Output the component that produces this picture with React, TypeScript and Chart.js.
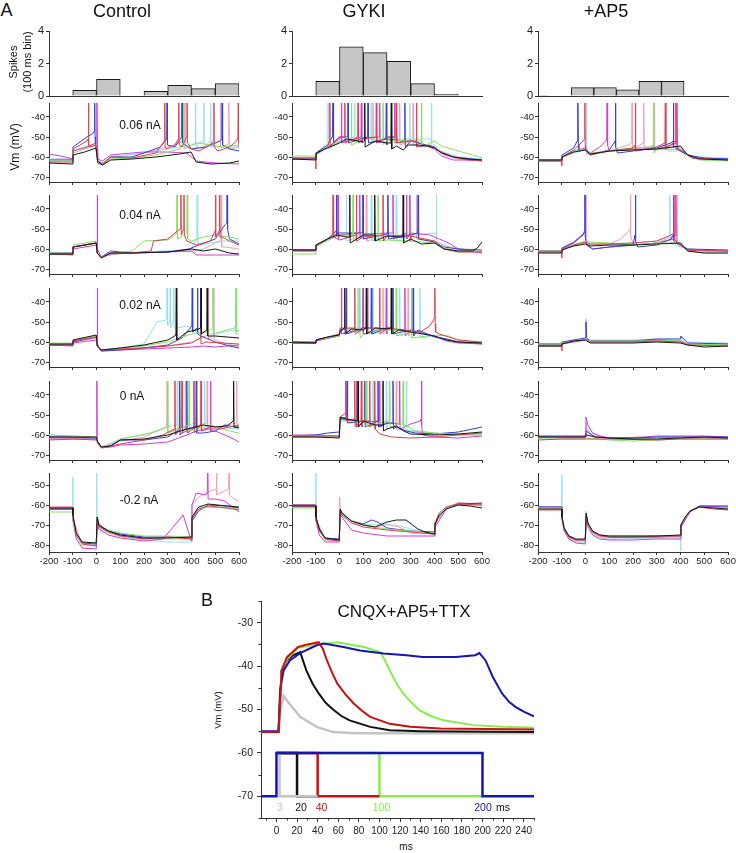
import React, { useEffect, useRef } from "react";
import { Chart, registerables } from "chart.js";
Chart.register(...registerables);

// ----------------------------------------------------------------- data
type Tr = { v: number[]; s: number[] };
const tr = (v: number[], s: number[] = []): Tr => ({ v, s });

const X_TICKS_A = [-200, -100, 0, 100, 200, 300, 400, 500, 600];
const Y_TICKS_UP = [-70, -60, -50, -40];
const Y_TICKS_LOW = [-80, -70, -60, -50];
const HIST_TICKS = [0, 2, 4];
const CURRENTS = ["0.06 nA", "0.04 nA", "0.02 nA", "0 nA", "-0.2 nA"];
const CONDITIONS = ["Control", "GYKI", "+AP5"];

// spike histograms (bin centres in ms, spikes per 100 ms bin)
const HIST_CTRL_X = [-150, -50, 50, 150, 250, 350, 450, 550];
const HIST_CTRL = [0, 0.35, 1.02, 0, 0.28, 0.66, 0.45, 0.76];
const HIST_GYKI_X = [-150, -50, 50, 150, 250, 350, 450, 550];
const HIST_GYKI = [0, 0.9, 3.02, 2.67, 2.14, 0.76, 0.1, 0];
const HIST_AP5_X = [-202.5, -107.5, -12.5, 82.5, 177.5, 272.5, 367.5, 462.5, 557.5];
const HIST_AP5 = [0.03, 0, 0.52, 0.52, 0.38, 0.9, 0.9, 0, 0];

// traces: v = [t, mV, ...] ; s = spikes [t, threshold mV, ...]
// order: black, red, green, blue, magenta, cyan, pink
const CTRL_006: Tr[] = [
  tr([-200,-63, -100,-63.5, -99,-59, -50,-57.5, -2,-55.5, 5,-62, 25,-64, 60,-61.5, 150,-61, 250,-60, 350,-58.5, 398,-57.5, 420,-62.5, 480,-63.5, 560,-63, 600,-62]),
  tr([-200,-62.5, -100,-62.5, -99,-56, -40,-52, -30,-55, -1,-54, 5,-62, 25,-63.5, 60,-60, 150,-60.5, 250,-58, 280,-53, 295,-56, 330,-54, 360,-55, 400,-56, 430,-57, 480,-54, 510,-57, 560,-55, 590,-52, 600,-55], [-34,-51, 287,-52, 346,-51, 381,-50, 494,-52, 597,-50]),
  tr([-200,-62, -100,-62, -99,-58, -50,-56, -1,-54, 5,-62, 25,-63, 60,-61, 150,-60.5, 250,-59, 350,-56, 400,-54, 430,-53, 480,-54, 530,-55, 600,-54], [367,-53]),
  tr([-200,-61.5, -100,-61.5, -99,-55, -40,-50, -12,-48, -4,-54, 5,-63, 25,-64, 60,-60, 150,-60, 200,-58, 269,-55, 330,-55, 400,-56, 460,-55, 520,-52, 560,-56, 600,-57], [-8,-47, 297,-51, 360,-50, 529,-51]),
  tr([-200,-58.5, -150,-59.5, -100,-61, -99,-57, -40,-55, -1,-53, 5,-61, 25,-62, 60,-59, 100,-58.5, 200,-57.5, 300,-57.5, 380,-58, 420,-62, 500,-63, 600,-63.5], [2,-53]),
  tr([-200,-61, -100,-61, -99,-57, -1,-54, 5,-62, 25,-63, 60,-60, 200,-58, 300,-56, 400,-54, 430,-53, 500,-55, 600,-55], [417,-53, 452,-52, 480,-52]),
  tr([-200,-61, -100,-61, -99,-57, -1,-53, 5,-62, 25,-63, 60,-60, 200,-58, 300,-55, 400,-56, 450,-55, 550,-54, 600,-55], [372,-52, 522,-52, 557,-53]),
];
const CTRL_004: Tr[] = [
  tr([-200,-62.5, -100,-62.5, -99,-59, -1,-57, 3,-62, 20,-64.5, 60,-62, 150,-62, 300,-61.5, 400,-60, 450,-61, 500,-60, 560,-62, 600,-62.5]),
  tr([-200,-62.5, -100,-62.5, -99,-59, -1,-57, 3,-62, 20,-64, 60,-62, 150,-62, 230,-61, 240,-56, 300,-55, 340,-51, 380,-56, 420,-58, 480,-56, 495,-52, 530,-54, 560,-56, 600,-58], [355,-50, 368,-50, 501,-51, 518,-51]),
  tr([-200,-62, -100,-62, -99,-58, -1,-56, 3,-62, 20,-64, 60,-62, 150,-61, 200,-56, 300,-55.5, 330,-53, 400,-56, 450,-54, 500,-53, 560,-54, 600,-55], [339,-52, 382,-52]),
  tr([-200,-62, -100,-62, -99,-59, -1,-57, 3,-62, 20,-64, 60,-61, 150,-62, 300,-61.5, 390,-60, 430,-58, 466,-56.5, 500,-55, 540,-48, 560,-55, 600,-57.5], [550,-47]),
  tr([-200,-62.5, -100,-63, -99,-60, -1,-58, 3,-62, 20,-64, 60,-62.5, 150,-62, 300,-61.5, 400,-61, 420,-63, 500,-63, 600,-63], [3,-57]),
  tr([-200,-62, -100,-62, -99,-59, -1,-57, 3,-62, 20,-64, 100,-62, 300,-61, 400,-60, 420,-55, 440,-58, 520,-56, 600,-56], [424,-54]),
  tr([-200,-62, -100,-62.5, -99,-59, -1,-57, 3,-62, 20,-64, 100,-62, 300,-61, 400,-61, 450,-60, 500,-57, 540,-59, 600,-60], [525,-56]),
];
const CTRL_002: Tr[] = [
  tr([-200,-61, -100,-61, -99,-59, -1,-56.5, 3,-62, 20,-64, 100,-63, 200,-61.5, 300,-59, 330,-57, 380,-55, 420,-54, 500,-57, 600,-58], [336,-56, 440,-53, 466,-54]),
  tr([-200,-61.5, -100,-61.5, -99,-59.5, -1,-57.5, 3,-62, 20,-64, 100,-63.5, 200,-63, 300,-62, 400,-60.5, 460,-60, 600,-61], [438,-58]),
  tr([-200,-60.5, -100,-60.5, -99,-59, -1,-57, 3,-62, 20,-64, 100,-63, 200,-62, 300,-60, 400,-56, 450,-55, 480,-54, 520,-55, 580,-53, 600,-54], [490,-53, 588,-52]),
  tr([-200,-61.5, -100,-61.5, -99,-60, -1,-57.5, 3,-62, 20,-64.5, 100,-64, 200,-63, 300,-61.5, 360,-58, 395,-53, 440,-57, 500,-60, 560,-62, 600,-63], [403,-52, 425,-53]),
  tr([-200,-61.5, -100,-62, -99,-60.5, -1,-59, 3,-62, 20,-64.5, 100,-64, 300,-63, 400,-62.5, 450,-62, 500,-62.5, 600,-61.5], [4,-58]),
  tr([-200,-61, -100,-61, -99,-59, -1,-57, 3,-62, 20,-64, 100,-63, 200,-61, 255,-50, 340,-53, 380,-52, 420,-55, 500,-56, 580,-54, 600,-56], [297,-49, 310,-50, 325,-50, 585,-53]),
  tr([-200,-61.5, -100,-61.5, -99,-60, -1,-58, 3,-62, 20,-64, 100,-63.5, 300,-62, 400,-60, 460,-57, 520,-60, 600,-62.5], [470,-56, 494,-56]),
];
const CTRL_000: Tr[] = [
  tr([-200,-61, -100,-61, -1,-61, 3,-63, 20,-66, 60,-65.5, 100,-62.5, 200,-62, 300,-60, 380,-57, 450,-55, 500,-56, 550,-55.5, 590,-56, 600,-56], [577,-53]),
  tr([-200,-62.5, -100,-62, -1,-62.5, 3,-63, 20,-66, 60,-65.5, 100,-64.5, 200,-62.5, 280,-60, 320,-57.5, 470,-57, 520,-57, 600,-55], [330,-57, 360,-56, 410,-56, 440,-55]),
  tr([-200,-60, -100,-60.5, -1,-61, 3,-63, 20,-66, 60,-65, 100,-62, 227,-59, 280,-57, 420,-57, 480,-55, 560,-58, 600,-59], [300,-56, 390,-55]),
  tr([-200,-61, -100,-61, -1,-61.5, 3,-63, 20,-66, 60,-65.5, 100,-62.5, 200,-62.5, 300,-61, 340,-58, 450,-59, 500,-58, 540,-55, 600,-56.5], [350,-57, 380,-56, 420,-56]),
  tr([-200,-62, -100,-62, -1,-62, 3,-63, 20,-66.5, 60,-66, 100,-65, 200,-64.5, 300,-63.5, 380,-60, 420,-58, 470,-56.5, 500,-58, 560,-61, 600,-63.5], [2,-61, 480,-55]),
  tr([-200,-60, -100,-60.5, -1,-61, 3,-63, 20,-66, 100,-62, 200,-60, 300,-56, 480,-56, 600,-57], [340,-55, 410,-54, 455,-54]),
  tr([-200,-61.5, -100,-61.5, -1,-62, 3,-63, 20,-66, 100,-63, 200,-61, 290,-56, 600,-56], [297,-56, 375,-55, 466,-54, 590,-54]),
];
const CTRL_M02: Tr[] = [
  tr([-200,-61.5, -100,-61.5, -99,-65, -85,-74, -60,-78.5, -1,-79, 3,-66, 10,-70, 50,-73, 100,-75, 200,-76.5, 300,-76.5, 399,-76, 402,-66, 430,-61, 470,-59.5, 550,-60.5, 600,-61]),
  tr([-200,-61, -100,-61, -99,-66, -85,-75, -60,-79.5, -1,-80.5, 3,-67, 10,-71, 50,-73.5, 100,-75.5, 200,-77, 300,-76, 399,-77, 402,-67, 430,-62, 470,-60.5, 550,-61.5, 600,-62.5]),
  tr([-200,-63.5, -100,-63.5, -99,-67, -85,-75, -60,-78.5, -1,-79, 3,-66, 10,-70, 50,-72.5, 100,-74, 200,-75.5, 300,-75.5, 399,-76, 402,-67, 430,-62, 470,-61, 550,-61.5, 600,-62]),
  tr([-200,-62, -100,-62, -99,-66, -85,-75, -60,-79, -1,-79.5, 3,-66, 10,-70.5, 50,-73, 100,-74.5, 200,-76, 300,-76, 399,-76.5, 402,-68, 430,-63, 470,-60, 550,-60.5, 600,-61.5]),
  tr([-200,-62, -100,-62, -99,-68, -85,-77, -60,-81.5, -1,-82, 3,-70, 10,-72, 50,-75, 100,-76.5, 200,-78, 280,-77, 330,-70, 365,-65, 399,-78, 402,-60, 420,-54, 460,-55, 500,-57, 540,-58, 600,-63.5], [468,-54]),
  tr([-200,-62, -100,-62, -99.5,-46, -99,-67, -85,-76, -60,-80, -1,-80, 0.5,-43, 3,-68, 10,-72, 50,-74, 100,-76, 200,-77.5, 300,-78.5, 399,-78.5, 402,-67, 430,-61, 500,-61, 600,-61.5]),
  tr([-200,-62, -100,-62, -99,-67, -60,-80, -1,-80, 3,-68, 50,-74, 200,-77, 399,-77, 402,-60, 430,-56, 480,-53, 580,-57, 600,-58], [505,-52, 558,-52]),
];

const GYKI_006: Tr[] = [
  tr([-200,-61, -100,-61.5, -99,-58, -50,-55.5, 0,-53, 30,-51, 100,-52.5, 150,-52, 200,-53, 240,-54.5, 268,-56.5, 290,-54, 330,-54, 370,-54.5, 400,-55.5, 430,-58, 480,-60, 540,-61, 600,-61.5], [106,-52, 218,-53]),
  tr([-200,-60.5, -100,-60.5, -99.5,-66, -99,-59, -50,-55, -20,-52, 0,-50, 100,-51, 200,-50, 300,-52, 380,-54, 420,-57, 480,-60, 540,-61.5, 600,-62], [-41,-52, 22,-50, 78,-50, 155,-50, 239,-50, 324,-52]),
  tr([-200,-59.5, -100,-59.5, -99,-58.5, -50,-55, 0,-52.5, 100,-51, 200,-51.5, 300,-52, 400,-52, 430,-54.5, 500,-57, 560,-59, 600,-60.5], [50,-51, 183,-51, 345,-52]),
  tr([-200,-61, -100,-61, -99,-58, -50,-54, -30,-50, 0,-50, 100,-50.5, 200,-51, 300,-52, 400,-55, 430,-58, 480,-60, 600,-61.5], [-27,-50, 36,-50, 120,-50, 197,-51, 275,-52]),
  tr([-200,-60.5, -100,-60.5, -99,-58.5, -50,-55, 0,-51, 100,-50.5, 200,-50, 300,-51.5, 400,-56, 430,-59.5, 480,-61.5, 600,-61.5], [8,-50, 92,-50, 169,-50, 232,-50]),
  tr([-200,-61, -100,-61, -99,-58, 0,-52, 100,-51, 200,-51, 300,-51, 400,-54, 430,-57, 500,-60, 600,-61], [-48,-53, 64,-50, 134,-50, 296,-51, 387,-51]),
  tr([-200,-60.5, -100,-60.5, -99,-58, 0,-52, 100,-51, 200,-51, 300,-52, 400,-55, 440,-59, 500,-61, 600,-61.5], [141,-50, 253,-51, 310,-51]),
];
const GYKI_004: Tr[] = [
  tr([-200,-60.5, -100,-60.5, -99,-58, -50,-55, -10,-53, 30,-54, 100,-53, 150,-53, 200,-53.5, 250,-54, 300,-55, 345,-57.5, 400,-57, 440,-60, 500,-61, 560,-61, 580,-59.5, 600,-56.5], [43,-54, 148,-53, 268,-54]),
  tr([-200,-60.5, -100,-60.5, -99,-58, -50,-55, -30,-53, 0,-55.5, 100,-54, 200,-53.5, 300,-53.5, 400,-56, 440,-60, 500,-61.5, 600,-61.5], [-27,-51, 71,-53, 183,-53, 296,-53]),
  tr([-200,-62.5, -100,-62.5, -99,-59, -50,-55.5, 0,-53, 100,-53, 150,-54, 200,-55.5, 300,-56, 400,-57, 440,-59.5, 500,-61, 600,-61], [57,-53, 162,-53]),
  tr([-200,-60.5, -100,-60.5, -99,-58, -50,-55, -10,-52, 100,-52.5, 200,-52.5, 300,-53, 400,-56.5, 440,-59, 500,-60, 600,-60.5], [-13,-51, 99,-52, 204,-52, 331,-52]),
  tr([-200,-61, -100,-61, -99,-58.5, -50,-55, 0,-53, 100,-52.5, 200,-52, 300,-52, 380,-53, 420,-55, 460,-57, 500,-60, 600,-62], [-6,-52, 85,-52, 225,-52, 282,-52]),
  tr([-200,-61, -100,-61, -99,-58.5, 0,-53, 100,-53, 200,-53, 300,-53, 400,-52, 420,-57, 500,-60.5, 600,-61], [29,-53, 134,-53, 239,-53, 408,-52]),
  tr([-200,-61, -100,-61, -99,-58.5, 0,-53, 100,-53, 200,-53, 300,-54, 400,-56, 460,-59, 600,-61.5], [113,-53, 324,-52]),
];
const GYKI_002: Tr[] = [
  tr([-200,-60, -100,-60.5, -99,-59, -50,-57.5, -1,-56.5, 3,-54.5, 50,-53.5, 100,-54, 150,-53, 200,-53.5, 250,-54, 300,-55, 350,-56, 400,-57, 450,-59, 500,-60, 600,-60.5], [22,-53, 113,-53, 218,-53]),
  tr([-200,-60, -100,-60, -99,-59, -50,-57.5, -1,-56, 3,-53, 100,-53, 200,-53, 300,-54.5, 340,-55, 380,-52, 396,-49, 405,-55, 420,-56, 500,-59, 600,-60], [64,-53, 169,-53, 401,-48]),
  tr([-200,-60, -100,-60, -99,-59, -1,-57, 3,-53, 50,-54, 100,-56.5, 150,-54, 200,-54, 300,-55, 400,-56.5, 460,-57, 500,-59, 600,-60.5], [85,-55, 239,-54, 303,-55]),
  tr([-200,-60.5, -100,-60.5, -99,-59, -1,-56.5, 3,-54, 100,-53, 200,-53, 300,-54, 330,-54, 380,-56.5, 400,-57.5, 450,-58.5, 500,-60, 600,-60.5], [29,-53, 134,-53, 225,-53, 310,-54]),
  tr([-200,-60.5, -100,-60.5, -99,-59.5, -1,-57, 3,-54, 100,-53, 200,-53.5, 300,-54, 400,-57, 450,-59.5, 500,-60.5, 600,-61], [8,-53, 99,-53, 197,-53, 275,-54]),
  tr([-200,-60.5, -100,-60.5, -99,-59, -1,-57, 3,-54, 100,-53.5, 200,-53.5, 300,-55, 400,-57, 500,-60, 600,-60.5], [78,-53, 141,-53, 253,-54, 338,-55]),
  tr([-200,-60.5, -100,-60.5, -99,-59, -1,-57, 3,-54, 100,-53, 200,-53, 300,-54, 400,-57.5, 500,-60, 600,-61], [120,-53, 183,-53, 289,-54]),
];
const GYKI_000: Tr[] = [
  tr([-200,-61, -100,-61, -1,-61.5, 3,-51, 30,-52, 100,-53, 150,-55, 200,-57, 240,-55.5, 270,-58, 300,-59.5, 400,-60, 500,-59.5, 600,-58.5], [78,-53, 183,-55]),
  tr([-200,-60.5, -100,-60.5, -1,-60.5, 3,-51, 20,-49.5, 60,-52, 100,-53, 150,-55, 170,-59.5, 220,-61, 300,-61.5, 400,-61, 500,-60, 600,-59], [26,-50, 64,-53, 92,-53, 127,-53, 148,-54]),
  tr([-200,-60.5, -100,-60.5, -1,-60.5, 3,-53, 100,-53, 200,-53, 280,-55, 320,-58, 400,-59, 500,-60, 600,-60], [113,-53, 211,-53, 268,-54]),
  tr([-200,-60.5, -100,-60, -50,-59, -1,-58.5, 3,-52, 100,-53, 200,-54, 239,-56, 280,-58, 320,-59, 400,-59.5, 500,-58.5, 600,-56], [32,-51, 106,-53, 162,-53, 225,-54]),
  tr([-200,-60, -100,-60, -1,-60.5, 3,-52, 100,-53.5, 200,-54, 250,-54.5, 300,-54.5, 340,-53, 350,-60, 400,-61, 500,-61.5, 600,-60.5], [71,-53, 169,-53, 253,-54, 345,-52]),
  tr([-200,-61, -100,-61, -1,-61, 3,-52, 100,-53, 200,-54, 300,-57.5, 400,-59, 600,-60], [141,-53, 197,-54, 282,-55]),
  tr([-200,-61, -100,-61, -1,-61, 3,-52, 100,-53, 200,-54, 300,-58, 400,-59.5, 600,-60], [239,-54]),
];
const GYKI_M02: Tr[] = [
  tr([-200,-60.5, -100,-60.5, -99,-66, -85,-72, -60,-76.5, -1,-77.5, 3,-62, 10,-64, 50,-68, 100,-70, 150,-71, 200,-68.5, 240,-67.5, 280,-67.5, 330,-72, 360,-73.5, 399,-74.5, 402,-70, 420,-65, 450,-62, 500,-60, 550,-60.5, 600,-61.5]),
  tr([-200,-60, -100,-60, -99,-67, -85,-73, -60,-77, -1,-78, 3,-63, 10,-65, 50,-69, 100,-71, 200,-72.5, 300,-73.5, 399,-74.5, 402,-69, 420,-64, 450,-61, 500,-59.5, 600,-60]),
  tr([-200,-61.5, -100,-61.5, -99,-67, -60,-77, -1,-77.5, 3,-63, 50,-68, 100,-70, 200,-72, 300,-73, 399,-74, 402,-69, 450,-61.5, 500,-60, 600,-60]),
  tr([-200,-60, -100,-60, -99,-66, -85,-72.5, -60,-76.5, -1,-77, 3,-63, 50,-68, 100,-69.5, 134,-67.5, 160,-68.5, 200,-71.5, 300,-73, 399,-73.5, 402,-69, 450,-61.5, 500,-59.5, 600,-59]),
  tr([-200,-61, -100,-61, -99,-68, -85,-75, -60,-78.5, -1,-78.5, 3,-64, 10,-66, 50,-72.5, 100,-74, 200,-75.5, 300,-75.5, 399,-75.5, 402,-71, 450,-62, 500,-59, 600,-59.5]),
  tr([-200,-60, -100,-60, -99.5,-44, -99,-68, -60,-77, -1,-77, 3,-64, 50,-68, 100,-69.5, 150,-70, 230,-70, 270,-71, 330,-73, 399,-74.5, 399.5,-76, 402,-69, 450,-61, 500,-59.5, 600,-60]),
  tr([-200,-60.5, -100,-60.5, -99,-67, -60,-77.5, -1,-78, 0.5,-56, 3,-64, 50,-69, 150,-71, 200,-69.5, 250,-71, 300,-74, 399,-74.5, 402,-69, 450,-61, 500,-59, 600,-59.5]),
];

const AP5_006: Tr[] = [
  tr([-200,-61.5, -100,-61.5, -99,-60, -50,-57.5, 0,-56.5, 20,-58.5, 100,-57, 200,-56.5, 300,-56, 400,-54.5, 430,-59, 480,-61, 600,-61.5]),
  tr([-200,-62, -100,-62, -99.5,-64.5, -99,-60, -50,-56.5, -10,-52, 0,-57, 20,-59, 100,-57, 200,-55.5, 300,-55, 380,-53, 410,-57, 450,-60.5, 600,-61.5], [-3,-51, 210,-54, 336,-53, 380,-52]),
  tr([-200,-61.5, -100,-61.5, -99,-60, -50,-57, 0,-56, 20,-58, 100,-57, 200,-55.5, 300,-56, 400,-55, 430,-59.5, 480,-61.5, 600,-62], [287,-55]),
  tr([-200,-61.5, -100,-61.5, -99,-59, -50,-55.5, -35,-52, -28,-57, 0,-56, 20,-59, 100,-56.5, 120,-53, 135,-58, 200,-57, 300,-55.5, 360,-53, 385,-56, 430,-59, 500,-60.5, 600,-61], [-32,-51, 126,-52, 370,-52]),
  tr([-200,-62, -100,-62, -99,-60, -50,-57, 0,-55.5, 20,-58, 60,-55, 85,-52, 100,-57, 200,-56, 300,-56, 360,-54, 400,-57, 450,-60.5, 600,-61], [91,-51, 385,-53]),
  tr([-200,-61.5, -100,-61.5, -99,-60, 0,-56, 20,-58.5, 100,-57, 200,-55.5, 300,-54.5, 330,-54, 350,-57, 400,-57, 450,-60, 600,-60.5], [4,-56, 340,-53]),
  tr([-200,-61.5, -100,-61.5, -99,-60, 0,-56, 20,-58.5, 100,-57, 180,-54, 300,-56, 400,-56.5, 450,-60, 600,-61], [196,-53, 245,-53, 290,-54]),
];
const AP5_004: Tr[] = [
  tr([-200,-62, -100,-62, -99,-60.5, -50,-58.5, 0,-57.5, 20,-58.5, 100,-58, 200,-58, 300,-57.5, 400,-57, 430,-61, 500,-62, 600,-62]),
  tr([-200,-61.5, -100,-61.5, -99.5,-64.5, -99,-60, -50,-58, 0,-56.5, 20,-57.5, 100,-57.5, 200,-57, 300,-56, 360,-53, 385,-57, 430,-60.5, 500,-61, 600,-61], [372,-52]),
  tr([-200,-61, -100,-61, -99,-60, -50,-58, 0,-56, 20,-56.5, 100,-57, 200,-58, 300,-57, 400,-57, 430,-61, 500,-62, 600,-62]),
  tr([-200,-61, -100,-61, -99,-59.5, -50,-57, -10,-53, 5,-58, 30,-60, 100,-59, 200,-58, 205,-55, 220,-59, 300,-58, 360,-55, 380,-57, 430,-60, 600,-60.5], [-3,-51, 210,-53, 370,-53]),
  tr([-200,-61, -100,-61, -99,-59.5, -50,-56.5, -5,-52, 5,-58, 30,-60, 100,-59, 200,-58, 300,-57, 370,-55, 390,-57, 430,-60.5, 600,-61], [0,-51, 380,-53]),
  tr([-200,-61.5, -100,-61.5, -99,-60, 0,-56.5, 20,-57.5, 200,-57, 300,-56, 350,-54, 370,-58, 430,-60, 600,-61], [355,-53]),
  tr([-200,-61.5, -100,-61.5, -99,-60, 0,-57, 20,-58, 100,-57.5, 150,-55, 182,-51, 200,-58, 300,-57, 360,-54, 395,-57, 430,-60, 600,-61], [189,-50, 385,-53]),
];
const AP5_002: Tr[] = [
  tr([-200,-62, -100,-62, -99,-61, -50,-59.5, 0,-59, 20,-60.5, 200,-60.5, 300,-60, 399,-60.5, 430,-61.5, 500,-62.5, 600,-62]),
  tr([-200,-62, -100,-62, -99.5,-64.5, -99,-61, 0,-59, 20,-60, 200,-60, 300,-59.5, 399,-60, 430,-61.5, 600,-62]),
  tr([-200,-61.5, -100,-61.5, -99,-60.5, 0,-58.5, 20,-59.5, 200,-59.5, 300,-59.5, 399,-59, 430,-61, 600,-61.5]),
  tr([-200,-61, -100,-61, -99,-60, 0,-58, 2,-50, 5,-58, 20,-59.5, 200,-59.5, 300,-58.5, 399,-58.5, 401,-57, 430,-60.5, 600,-61]),
  tr([-200,-61.5, -100,-61.5, -99,-60.5, 0,-58.5, 20,-59.5, 200,-59.5, 300,-59, 399,-59.5, 430,-61, 600,-61]),
  tr([-200,-61, -100,-61, -99,-60, 0,-58, 20,-59, 200,-59, 300,-58.5, 399,-58.5, 402,-57.5, 430,-60, 600,-60.5]),
  tr([-200,-61.5, -100,-61.5, -99,-60.5, 0,-58.5, 1.5,-48.5, 4,-58, 20,-59.5, 200,-60, 300,-59.5, 399,-59.5, 430,-61, 600,-61.5]),
];
const AP5_000: Tr[] = [
  tr([-200,-61, -100,-61, -1,-61, 3,-60, 40,-61, 100,-61.5, 200,-62, 300,-62, 400,-61.5, 500,-61, 600,-61.5]),
  tr([-200,-62.5, -100,-62, -1,-62, 3,-62, 100,-62, 300,-62.5, 400,-62, 500,-62, 600,-62]),
  tr([-200,-62, -100,-62, -1,-62, 3,-61.5, 50,-62, 100,-62.5, 200,-63, 300,-62.5, 400,-62, 600,-62]),
  tr([-200,-60.5, -100,-60.5, -1,-60.5, 3,-58, 40,-61, 100,-61.5, 200,-61.5, 300,-61, 400,-61, 500,-61, 600,-61]),
  tr([-200,-61, -100,-61, -1,-61, 2,-51, 10,-55, 30,-59, 60,-60.5, 100,-61.5, 250,-61, 300,-60.5, 450,-60.5, 500,-60.5, 600,-61]),
  tr([-200,-61.5, -100,-61.5, -1,-61.5, 2,-54, 20,-59, 100,-61.5, 300,-61.5, 600,-61.5]),
  tr([-200,-61, -100,-61, -1,-61, 2,-56, 20,-60, 100,-61.5, 300,-61, 600,-61]),
];
const AP5_M02: Tr[] = [
  tr([-200,-62, -100,-62, -99,-66, -90,-71.5, -70,-75.5, -40,-77, -1,-77, 3,-64, 10,-69, 30,-73, 60,-75, 100,-75.5, 200,-75.5, 300,-75.5, 399,-75, 402,-70, 420,-66, 440,-63, 480,-61, 540,-61.5, 600,-62]),
  tr([-200,-62.5, -100,-62.5, -99,-66.5, -90,-72, -70,-76, -40,-77.5, -1,-77.5, 3,-65, 10,-69.5, 30,-73.5, 60,-75.5, 100,-76, 200,-76, 300,-75.5, 399,-75.5, 402,-70, 420,-66, 440,-63, 480,-61, 540,-62, 600,-62.5]),
  tr([-200,-61.5, -100,-61.5, -99,-66.5, -90,-72, -70,-76, -40,-77.5, -1,-77.5, 3,-65, 10,-69.5, 30,-73.5, 60,-75, 100,-75.5, 300,-75.5, 399,-75.5, 402,-70, 440,-63, 480,-61, 600,-62]),
  tr([-200,-61, -100,-61, -99,-66, -90,-71.5, -70,-75.5, -40,-77.5, -1,-77.5, 3,-65, 10,-69, 30,-73.5, 60,-75, 100,-76, 300,-76, 399,-75.5, 402,-70, 440,-63, 480,-60.5, 600,-60.5]),
  tr([-200,-61, -100,-61, -99,-67, -90,-73, -70,-77, -40,-79, -1,-79.5, 3,-66, 10,-71, 30,-75, 60,-77, 100,-77.5, 200,-77.5, 300,-77, 399,-77, 402,-71, 440,-63.5, 480,-60.5, 600,-61]),
  tr([-200,-61, -100,-61, -99.5,-45, -99,-67, -90,-73, -70,-77, -40,-78.5, -1,-79, 1,-63, 3,-66, 10,-70.5, 30,-74.5, 60,-76.5, 100,-77, 300,-76.5, 399,-76.5, 400,-83, 402,-71, 440,-63.5, 480,-60.5, 600,-60.5]),
  tr([-200,-61.5, -100,-61.5, -99,-67, -90,-72.5, -70,-76.5, -40,-78, -1,-78, 3,-65.5, 10,-70, 30,-74, 60,-76, 100,-76.5, 300,-76, 399,-76, 402,-70, 440,-63, 480,-61, 600,-61.5]),
];

const PANELS: Tr[][][] = [
  [CTRL_006, CTRL_004, CTRL_002, CTRL_000, CTRL_M02],
  [GYKI_006, GYKI_004, GYKI_002, GYKI_000, GYKI_M02],
  [AP5_006, AP5_004, AP5_002, AP5_000, AP5_M02],
];
const HISTS = [
  [HIST_CTRL_X, HIST_CTRL],
  [HIST_GYKI_X, HIST_GYKI],
  [HIST_AP5_X, HIST_AP5],
];

// panel B (CNQX+AP5+TTX), [ms, mV, ...]
const B_X_TICKS = [0, 20, 40, 60, 80, 100, 120, 140, 160, 180, 200, 220, 240];
const B_X_MINOR = [-10, 10, 30, 50, 70, 90, 110, 130, 150, 170, 190, 210, 230, 250];
const B_Y_TICKS = [-70, -60, -50, -40, -30];
const B_Y_MINOR = [-75, -65, -55, -45, -35, -25];
const B_DURATIONS = ["3", "20", "40", "100", "200"];
const B_VM_BLUE = [-15,-55, 2,-55, 3.5,-45.6, 7,-41, 13,-38.7, 23,-37, 39,-35.2, 46,-34.8, 65,-35.6, 81,-36.4, 104,-37.1, 126,-37.5, 142,-37.9, 174,-37.9, 193,-37.5, 197,-37, 203,-38.7, 210,-42.5, 219,-46.3, 226,-48.3, 232,-49.4, 240,-50.5, 250,-51.6];
const B_VM_RED = [-15,-55.2, 2,-55.2, 5,-41, 10,-38, 21,-35.6, 30,-35, 41,-34.5, 45,-36, 49,-38.7, 54,-41.5, 59,-44, 67,-46.5, 75,-48.6, 83,-50.3, 91,-51.7, 110,-53.3, 130,-54, 159,-54.4, 250,-54.6];
const B_VM_GREEN = [-15,-55.2, 2,-55.2, 5,-41, 10,-38.5, 21,-35.8, 40,-35, 59,-34.5, 85,-35.6, 101,-36.8, 105,-38.5, 110,-41, 116,-43.8, 123,-46.3, 131,-48.4, 139,-50.2, 150,-51.5, 162,-52.5, 191,-53.6, 220,-54, 250,-54.2];
const B_VM_BLACK = [-15,-55.2, 2,-55.2, 5,-41, 10,-38.7, 16,-37.5, 23,-36.8, 29,-41, 35,-44, 41,-46.3, 48,-48.5, 55,-50, 63,-51.5, 71,-52.5, 91,-54, 110,-54.8, 140,-55, 250,-55.2];
const B_VM_GRAY = [-15,-55.2, 2,-55.2, 4,-50, 7,-46.9, 12,-48.5, 23,-51.7, 39,-54, 55,-55.2, 77,-55.5, 250,-55.5];
const B_CMD_BLUE = [-15,-70, 0,-70, 0,-60, 200,-60, 200,-70, 250,-70];
const B_CMD_GRAY = [0,-60, 3,-60, 3,-70, 40,-70];
const B_CMD_BLACK = [0,-60, 20,-60, 20,-70, 40,-70];
const B_CMD_RED = [0,-60, 40,-60, 40,-70, 100,-70];
const B_CMD_GREEN = [0,-60, 100,-60, 100,-70, 200,-70];

// ----------------------------------------------------------------- style / layout
const FONT = "'Liberation Sans', Arial, Helvetica, sans-serif";
const AXIS = "#333";
const TICK = "#222";
const TRACE_COLORS = ["#151515", "#e0404c", "#88e060", "#3440d8", "#d23cd2", "#96e2ee", "#f2a0b4"];
const B_COLORS = { blue: "#1414b8", red: "#cc1010", green: "#86ee48", black: "#111111", gray: "#c4c4c4" };
const YW = 36, TP = 12, RP = 16, PW = 190, PH = 79;
const COL_LEFT = [49, 292, 538];
const PANEL_BOTTOM = [182, 274, 367, 460, 552];
const HIST_TOP = 31, HIST_H = 65;
const B_LEFT = 261, B_TOP = 601, B_W = 273, B_H = 217;

Chart.defaults.font.family = FONT;

const pairs = (a: number[]) => {
  const out: { x: number; y: number }[] = [];
  for (let i = 0; i < a.length; i += 2) out.push({ x: a[i], y: a[i + 1] });
  return out;
};
function buildTrace(t: Tr, peak: number) {
  const pts = pairs(t.v);
  for (let i = 0; i < t.s.length; i += 2) {
    const st = t.s[i], vb = t.s[i + 1];
    pts.push({ x: st - 1.5, y: vb }, { x: st, y: peak }, { x: st + 2, y: vb - 3 });
  }
  return pts.sort((a, b) => a.x - b.x);
}

const axisStyle = (tickLen: number, drawTicks = true) => ({
  grid: { drawOnChartArea: false, drawTicks, tickLength: tickLen, color: AXIS, lineWidth: 1 },
  border: { display: true, color: AXIS, width: 1 },
});
const setTicks = (vals: number[]) => (s: any) => {
  s.ticks = vals.map((v) => ({ value: v }));
};
const baseOpts = (right = RP) => ({
  animation: false as const,
  responsive: false,
  devicePixelRatio: 1,
  events: [] as any[],
  layout: { padding: { top: TP, right, left: 0, bottom: 0 } },
  plugins: { legend: { display: false }, tooltip: { enabled: false }, title: { display: false } },
});

function traceConfig(traces: Tr[], lower: boolean, showX: boolean): any {
  const yMin = lower ? -83.5 : -72.5;
  const yMax = lower ? -44 : -33;
  const peak = lower ? -30 : -20;
  return {
    type: "line",
    data: {
      datasets: traces.map((t, i) => ({
        data: buildTrace(t, peak),
        borderColor: TRACE_COLORS[i],
        borderWidth: 1,
        pointRadius: 0,
        tension: 0,
        fill: false,
      })),
    },
    options: {
      ...baseOpts(),
      scales: {
        x: {
          type: "linear", min: -200, max: 600,
          afterBuildTicks: setTicks(X_TICKS_A),
          afterFit: (s: any) => { s.height = showX ? 20 : 10; },
          ...axisStyle(3),
          ticks: { display: showX, color: TICK, font: { size: 9.5 }, padding: 1, maxRotation: 0, autoSkip: false },
        },
        y: {
          type: "linear", min: yMin, max: yMax,
          afterBuildTicks: setTicks(lower ? Y_TICKS_LOW : Y_TICKS_UP),
          afterFit: (s: any) => { s.width = YW; },
          ...axisStyle(3),
          ticks: { color: TICK, font: { size: 9.5 }, padding: 1, autoSkip: false },
        },
      },
    },
  };
}

function histConfig(xs: number[], vals: number[]): any {
  return {
    type: "bar",
    data: {
      datasets: [{
        data: xs.map((x, i) => ({ x, y: vals[i] })),
        backgroundColor: "#c6c6c6",
        borderColor: "#1a1a1a",
        borderWidth: 1,
        barPercentage: 1,
        categoryPercentage: 1,
      }],
    },
    options: {
      ...baseOpts(),
      scales: {
        x: {
          type: "linear", min: -200, max: 600, offset: false,
          afterBuildTicks: setTicks(X_TICKS_A),
          afterFit: (s: any) => { s.height = 10; },
          ...axisStyle(0, false),
          ticks: { display: false },
        },
        y: {
          type: "linear", min: 0, max: 4,
          afterBuildTicks: setTicks(HIST_TICKS),
          afterFit: (s: any) => { s.width = YW; },
          ...axisStyle(3),
          ticks: { color: TICK, font: { size: 11 }, padding: 2, autoSkip: false },
        },
      },
    },
  };
}

const minorTicksB = {
  id: "minorTicksB",
  afterDraw(chart: any) {
    const { ctx, chartArea, scales } = chart;
    ctx.save();
    ctx.strokeStyle = AXIS;
    ctx.lineWidth = 1;
    ctx.beginPath();
    for (const v of B_X_MINOR) {
      const x = Math.round(scales.x.getPixelForValue(v)) + 0.5;
      ctx.moveTo(x, chartArea.bottom);
      ctx.lineTo(x, chartArea.bottom + 2.5);
    }
    for (const v of B_Y_MINOR) {
      const y = Math.round(scales.y.getPixelForValue(v)) + 0.5;
      ctx.moveTo(chartArea.left, y);
      ctx.lineTo(chartArea.left - 2.5, y);
    }
    ctx.stroke();
    ctx.restore();
  },
};

function bConfig(): any {
  const ds = (d: number[], color: string, w: number) => ({
    data: pairs(d), borderColor: color, borderWidth: w, pointRadius: 0, tension: 0, fill: false,
  });
  return {
    type: "line",
    data: {
      datasets: [
        ds(B_CMD_BLUE, B_COLORS.blue, 2.5),
        ds(B_CMD_GRAY, B_COLORS.gray, 2.5),
        ds(B_CMD_BLACK, B_COLORS.black, 2.5),
        ds(B_CMD_RED, B_COLORS.red, 2.5),
        ds(B_CMD_GREEN, B_COLORS.green, 2.5),
        ds(B_VM_RED, B_COLORS.red, 2),
        ds(B_VM_BLUE, B_COLORS.blue, 2),
        ds(B_VM_GREEN, B_COLORS.green, 2),
        ds(B_VM_BLACK, B_COLORS.black, 2),
        ds(B_VM_GRAY, B_COLORS.gray, 2.5),
      ],
    },
    options: {
      ...baseOpts(),
      scales: {
        x: {
          type: "linear", min: -15, max: 250,
          afterBuildTicks: setTicks(B_X_TICKS),
          afterFit: (s: any) => { s.height = 22; },
          ...axisStyle(4),
          ticks: { color: TICK, font: { size: 10 }, padding: 3, maxRotation: 0, autoSkip: false },
        },
        y: {
          type: "linear", min: -75, max: -25,
          afterBuildTicks: setTicks(B_Y_TICKS),
          afterFit: (s: any) => { s.width = YW; },
          ...axisStyle(4),
          ticks: { color: TICK, font: { size: 10.5 }, padding: 4, autoSkip: false },
        },
      },
    },
    plugins: [minorTicksB],
  };
}

// ----------------------------------------------------------------- components
function ChartCanvas(props: { left: number; top: number; width: number; height: number; make: () => any }) {
  const ref = useRef<HTMLCanvasElement>(null);
  useEffect(() => {
    const c = new Chart(ref.current as HTMLCanvasElement, props.make());
    return () => c.destroy();
  }, []);
  return (
    <canvas
      ref={ref}
      width={props.width}
      height={props.height}
      style={{ position: "absolute", left: props.left, top: props.top, width: props.width, height: props.height }}
    />
  );
}

function Label(props: { x: number; y: number; text: string; size: number; color?: string; rotate?: boolean; lh?: number }) {
  return (
    <div
      style={{
        position: "absolute",
        left: props.x,
        top: props.y,
        transform: `translate(-50%, -50%)${props.rotate ? " rotate(-90deg)" : ""}`,
        fontSize: props.size,
        lineHeight: props.lh ? `${props.lh}px` : 1,
        color: props.color || "#111",
        whiteSpace: "pre",
        textAlign: "center",
        fontFamily: FONT,
      }}
    >
      {props.text}
    </div>
  );
}

const CURRENT_POS = [
  [140, 125], [140, 215], [140, 305], [132, 396], [139, 500],
];
const COL_TITLE_X = [122, 364, 606];
const B_DUR_X = [280, 301, 321.5, 381.5, 483];
const B_DUR_COLORS = [B_COLORS.gray, B_COLORS.black, B_COLORS.red, B_COLORS.green, B_COLORS.blue];

export default function App() {
  const charts: React.ReactNode[] = [];
  for (let c = 0; c < 3; c++) {
    const left = COL_LEFT[c] - YW;
    const width = YW + PW + RP;
    const [hx, hv] = HISTS[c];
    charts.push(
      <ChartCanvas key={`h${c}`} left={left} top={HIST_TOP - TP} width={width} height={TP + HIST_H + 10}
        make={() => histConfig(hx, hv)} />
    );
    for (let p = 0; p < 5; p++) {
      const showX = p === 4;
      const xh = showX ? 20 : 10;
      charts.push(
        <ChartCanvas key={`t${c}${p}`} left={left} top={PANEL_BOTTOM[p] - PH - TP} width={width} height={TP + PH + xh}
          make={() => traceConfig(PANELS[c][p], p === 4, showX)} />
      );
    }
  }
  charts.push(
    <ChartCanvas key="B" left={B_LEFT - YW} top={B_TOP - TP} width={YW + B_W + RP} height={TP + B_H + 22}
      make={bConfig} />
  );

  return (
    <div style={{ position: "absolute", left: 0, top: 0, width: 736, height: 853, overflow: "hidden", background: "#fff", fontFamily: FONT }}>
      {charts}
      <Label x={6.5} y={10} text="A" size={18} />
      {CONDITIONS.map((t, i) => (
        <Label key={t} x={COL_TITLE_X[i]} y={10.5} text={t} size={18} />
      ))}
      <Label x={20} y={62} text={"Spikes\n(100 ms bin)"} size={11} lh={14} rotate />
      <Label x={15} y={147} text="Vm (mV)" size={12} rotate />
      {CURRENTS.map((t, i) => (
        <Label key={t} x={CURRENT_POS[i][0]} y={CURRENT_POS[i][1]} text={t} size={12} />
      ))}
      <Label x={207} y={600} text="B" size={18} />
      <Label x={404} y={611} text="CNQX+AP5+TTX" size={17} />
      <Label x={218} y={710} text="Vm (mV)" size={9.5} rotate />
      <Label x={406} y={847} text="ms" size={10} />
      {B_DURATIONS.map((t, i) => (
        <Label key={t} x={B_DUR_X[i]} y={806.5} text={t} size={10.5} color={B_DUR_COLORS[i]} />
      ))}
      <Label x={503} y={806.5} text="ms" size={10.5} />
    </div>
  );
}
